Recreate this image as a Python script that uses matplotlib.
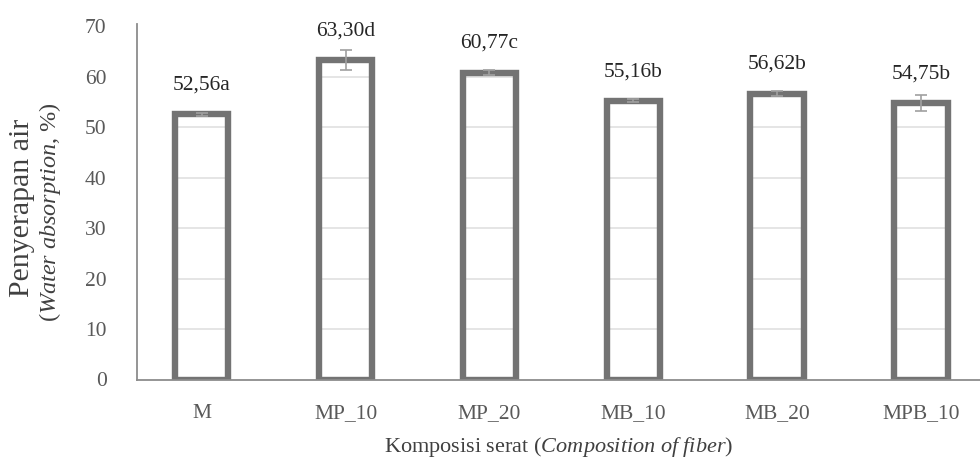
import matplotlib
matplotlib.use("Agg")
import matplotlib.pyplot as plt
import numpy as np

# Water absorption by fibre composition
categories = ["M", "MP_10", "MP_20", "MB_10", "MB_20", "MPB_10"]
absorption = [52.56, 63.30, 60.77, 55.16, 56.62, 54.75]
std_dev = [0.3, 2.0, 0.5, 0.3, 0.5, 1.6]
letters = ["a", "d", "c", "b", "b", "b"]
y_ticks = [0, 10, 20, 30, 40, 50, 60, 70]

plt.rcParams["font.family"] = ["Liberation Serif", "DejaVu Serif"]
plt.rcParams["mathtext.fontset"] = "custom"
plt.rcParams["mathtext.rm"] = "Liberation Serif"
plt.rcParams["mathtext.it"] = "Liberation Serif:italic"

fig = plt.figure(figsize=(9.8, 4.68), dpi=100)
ax = fig.add_axes([137.3 / 980, (468 - 379.5) / 468, 1 - 137.3 / 980, (379.5 - 24) / 468])

x = np.arange(len(categories))
bar_w = 0.372
edge = "#737373"

# light grid lines visible only inside each bar
for xi, v in zip(x, absorption):
    levels = [t for t in y_ticks if 0 < t < v]
    ax.hlines(levels, xi - bar_w / 2, xi + bar_w / 2, colors="#e3e3e3", lw=1.3, zorder=1)

ax.bar(x, absorption, width=bar_w, facecolor="none", edgecolor=edge, linewidth=4.6, zorder=2)
ax.errorbar(x, absorption, yerr=std_dev, fmt="none", ecolor="#a0a0a0", elinewidth=1.2,
            capsize=4.6, capthick=1.2, zorder=3)

for xi, v, lt in zip(x, absorption, letters):
    ax.annotate(f"{v:.2f}".replace(".", ",") + lt, (xi, v), xytext=(0, 21),
                textcoords="offset points", ha="center", va="center",
                fontsize=15.5, color="#262626")

ax.set_xlim(-0.4475, 5.409)
ax.set_ylim(0, 70.4)
ax.set_yticks(y_ticks)
ax.set_xticks(x)
ax.set_xticklabels(categories)
ax.tick_params(axis="both", length=0, labelsize=15.5, labelcolor="#595959")
ax.tick_params(axis="y", pad=22)
ax.tick_params(axis="x", pad=18)

for s in ["top", "right"]:
    ax.spines[s].set_visible(False)
ax.spines["left"].set_color("#8c8c8c")
ax.spines["bottom"].set_color("#8c8c8c")
ax.spines["left"].set_linewidth(1.3)
ax.spines["bottom"].set_linewidth(1.3)

ax.set_xlabel(r"Komposisi serat ($\mathit{Composition\ of\ fiber}$)", fontsize=16,
              color="#404040", labelpad=8)

# two-line y-axis title
fig.text(22 / 980, 1 - 208 / 468, "Penyerapan air", rotation=90, ha="center",
         va="center", fontsize=21.5, color="#404040")
fig.text(50 / 980, 1 - 212 / 468, r"($\mathit{Water\ absorption}$, %)", rotation=90,
         ha="center", va="center", fontsize=17.5, color="#404040")

fig.savefig("out.png", dpi=100)
